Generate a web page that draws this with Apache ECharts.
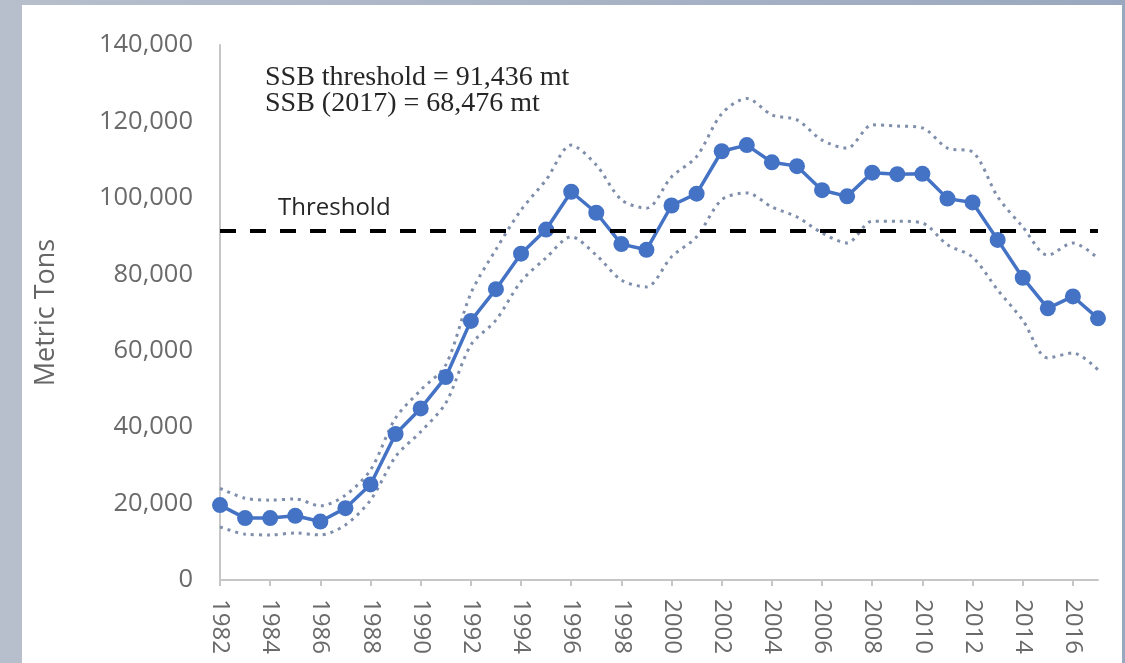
<!DOCTYPE html>
<html>
<head>
<meta charset="utf-8">
<title>SSB</title>
<script src="https://cdn.jsdelivr.net/npm/echarts@6/dist/echarts.min.js"></script>
<style>
  html, body {
    margin: 0;
    padding: 0;
    width: 1125px;
    height: 663px;
    overflow: hidden;
    background: linear-gradient(to right, #b7bfcc, #9aa8bf);
  }
  #panel {
    position: absolute;
    left: 22px;
    top: 5px;
    width: 1100px;
    height: 658px;
    background: #ffffff;
  }
  #chart {
    position: absolute;
    left: 0;
    top: 0;
    width: 1125px;
    height: 663px;
  }
</style>
</head>
<body>
<div id="panel"></div>
<div id="chart"></div>
<script>
  const years = [
    '1982', '1983', '1984', '1985', '1986', '1987', '1988', '1989', '1990',
    '1991', '1992', '1993', '1994', '1995', '1996', '1997', '1998', '1999',
    '2000', '2001', '2002', '2003', '2004', '2005', '2006', '2007', '2008',
    '2009', '2010', '2011', '2012', '2013', '2014', '2015', '2016', '2017'
  ];

  // spawning stock biomass (mt)
  const ssb = [
    19600, 16200, 16200, 16800, 15300, 18800, 25000, 38200, 44900,
    53100, 67800, 76100, 85400, 91700, 101600, 96100, 87900, 86400,
    98000, 101100, 112200, 113800, 109300, 108300, 102000, 100400, 106600,
    106200, 106300, 99800, 98800, 89000, 79100, 71100, 74200, 68476
  ];

  // confidence bounds
  const ssbUpper = [
    24000, 21400, 20900, 21200, 19400, 22200, 28800, 42400, 49700,
    56300, 75000, 86500, 96800, 104700, 113800, 108600, 99500, 97300,
    105500, 110800, 122000, 126000, 121700, 120400, 115100, 113000, 119100,
    118800, 118300, 113000, 112000, 100300, 92400, 85000, 88200, 84200
  ];
  const ssbLower = [
    13900, 12000, 11800, 12300, 11800, 14400, 20900, 32300, 38800,
    46300, 61500, 68000, 78100, 84300, 89800, 85000, 78500, 76700,
    84600, 89800, 99500, 101300, 97600, 95000, 90800, 88200, 93900,
    93900, 93400, 87700, 84500, 75900, 68000, 58100, 59400, 55000
  ];

  const threshold = 91436;
  const yTicks = [0, 20000, 40000, 60000, 80000, 100000, 120000, 140000];

  const chart = echarts.init(document.getElementById('chart'));

  const axisGray = '#c6c6c6';
  const labelGray = '#6a6a6a';
  const boundStyle = {
    color: '#7f8eab',
    width: 3,
    type: [3, 5]
  };

  const option = {
    animation: false,
    backgroundColor: 'transparent',
    grid: {
      left: 220,
      right: 27,
      top: 45,
      bottom: 83
    },
    xAxis: {
      type: 'category',
      data: years,
      boundaryGap: false,
      axisLine: {
        lineStyle: { color: axisGray, width: 2 }
      },
      axisTick: {
        show: true,
        interval: 1,
        length: 6,
        lineStyle: { color: axisGray, width: 2 }
      },
      axisLabel: {
        interval: 1,
        rotate: -90,
        margin: 19,
        fontSize: 24,
        fontFamily: 'Open Sans',
        color: labelGray
      },
      splitLine: { show: false }
    },
    yAxis: {
      type: 'value',
      min: yTicks[0],
      max: yTicks[yTicks.length - 1],
      interval: yTicks[1] - yTicks[0],
      name: 'Metric Tons',
      nameLocation: 'middle',
      nameGap: 160,
      nameTextStyle: {
        fontSize: 27,
        fontFamily: 'Open Sans',
        color: '#666666'
      },
      axisLine: {
        show: true,
        lineStyle: { color: axisGray, width: 2 }
      },
      axisTick: { show: false },
      axisLabel: {
        margin: 27,
        fontSize: 25.5,
        fontFamily: 'Open Sans',
        color: labelGray,
        formatter: (v) => v.toLocaleString('en-US')
      },
      splitLine: { show: false }
    },
    series: [
      {
        name: 'Upper',
        type: 'line',
        data: ssbUpper,
        smooth: 0.3,
        symbol: 'none',
        lineStyle: boundStyle,
        z: 2
      },
      {
        name: 'Lower',
        type: 'line',
        data: ssbLower,
        smooth: 0.3,
        symbol: 'none',
        lineStyle: boundStyle,
        z: 2
      },
      {
        name: 'SSB',
        type: 'line',
        data: ssb,
        symbol: 'circle',
        symbolSize: 16,
        lineStyle: { color: '#4472c4', width: 3.5 },
        itemStyle: { color: '#4472c4' },
        z: 3,
        markLine: {
          silent: true,
          symbol: ['none', 'none'],
          label: { show: false },
          lineStyle: { color: '#000000', width: 4, type: [16, 14] },
          data: [{ yAxis: threshold }],
          z: 4
        }
      }
    ],
    graphic: [
      {
        type: 'text',
        style: {
          x: 265,
          y: 78,
          text: 'SSB threshold = 91,436 mt',
          font: '28px "Liberation Serif"',
          fill: '#262626',
          textVerticalAlign: 'middle'
        }
      },
      {
        type: 'text',
        style: {
          x: 265,
          y: 104,
          text: 'SSB (2017) = 68,476 mt',
          font: '28px "Liberation Serif"',
          fill: '#262626',
          textVerticalAlign: 'middle'
        }
      },
      {
        type: 'text',
        style: {
          x: 278,
          y: 208,
          text: 'Threshold',
          font: '24px "Open Sans"',
          fill: '#262626',
          textVerticalAlign: 'middle'
        }
      }
    ]
  };

  chart.setOption(option);
</script>
</body>
</html>
